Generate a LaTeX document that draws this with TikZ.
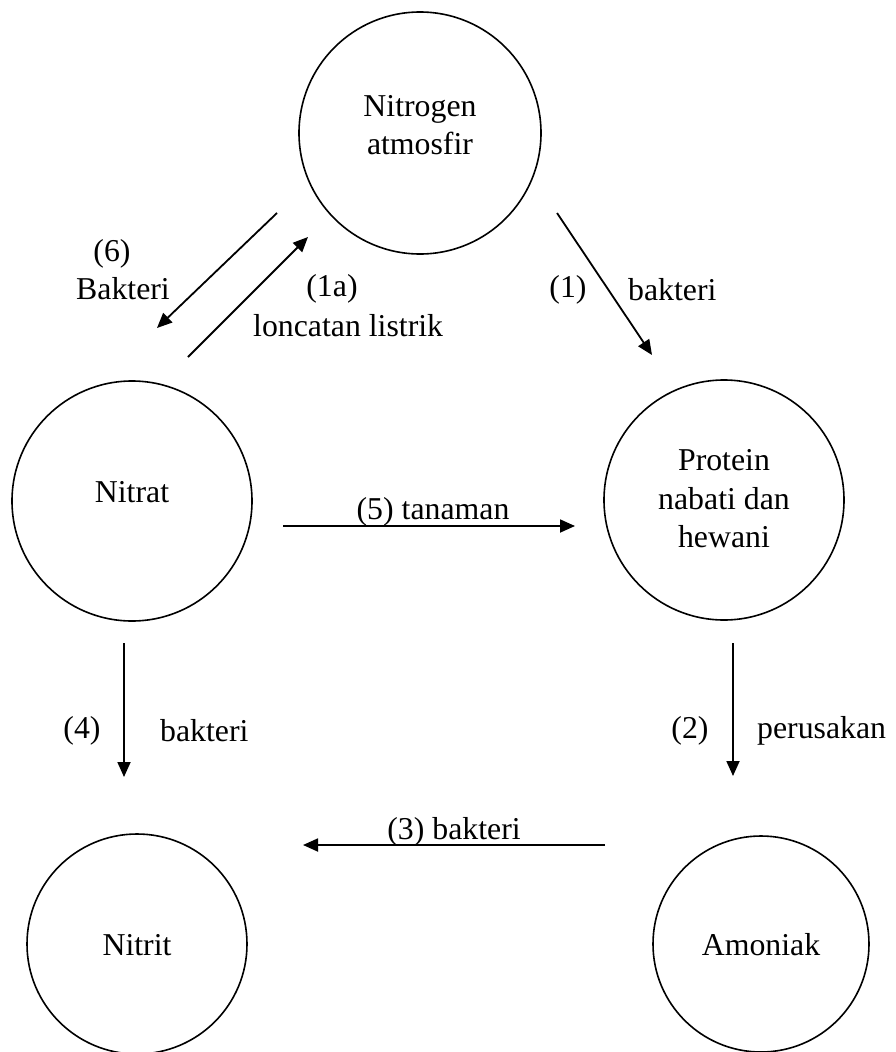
\documentclass[tikz,border=0pt]{standalone}
\usepackage{fontspec}
\setmainfont{Liberation Serif}
\usetikzlibrary{arrows.meta}
\begin{document}
\begin{tikzpicture}[x=1pt,y=-1pt,
  stage/.style={circle,draw,line width=1.6pt,inner sep=0pt},
  lbl/.style={font=\fontsize{31.8}{38.5}\selectfont,inner sep=0pt,align=center},
  arr/.style={line width=1.8pt,-{Triangle[length=15pt,width=13pt]}}]
\useasboundingbox (0,0) rectangle (895,1052);
% circles
\node[stage,minimum size=242pt] (N) at (420,133) {};
\node[stage,minimum size=240pt] (Na) at (132,501) {};
\node[stage,minimum size=240pt] (P) at (724,500) {};
\node[stage,minimum size=220pt] (Ni) at (137,944) {};
\node[stage,minimum size=216pt] (A) at (761,944) {};
% circle texts
\node[lbl] (tN) at (420,125) {Nitrogen\\atmosfir};
\node[lbl] (tNa) at (132,492) {Nitrat};
\node[lbl] (tP) at (724,499) {Protein\\nabati dan\\hewani};
\node[lbl] (tNi) at (137,945) {Nitrit};
\node[lbl] (tA) at (761,945) {Amoniak};
% arrow end points
\coordinate (a1s) at (557,213); \coordinate (a1e) at (652,355);
\coordinate (a6s) at (277,213); \coordinate (a6e) at (157,328);
\coordinate (a1as) at (188,357); \coordinate (a1ae) at (308,237);
\coordinate (a5s) at (283,526); \coordinate (a5e) at (575,526);
\coordinate (a2s) at (733,643); \coordinate (a2e) at (733,776);
\coordinate (a4s) at (124,643); \coordinate (a4e) at (124,777);
\coordinate (a3s) at (605,845); \coordinate (a3e) at (303,845);
% arrows
\draw[arr] (a1s) -- (a1e);
\draw[arr] (a6s) -- (a6e);
\draw[arr] (a1as) -- (a1ae);
\draw[arr] (a5s) -- (a5e);
\draw[arr] (a2s) -- (a2e);
\draw[arr] (a4s) -- (a4e);
\draw[arr] (a3s) -- (a3e);
% labels
\node[lbl] (l6) at (112,254) {(6)};
\node[lbl] (l6b) at (123,289) {Bakteri};
\node[lbl] (l1a) at (332,289) {(1a)};
\node[lbl,anchor=west] (l1ab) at (253,326) {loncatan listrik};
\node[lbl] (l1) at (568,290) {(1)};
\node[lbl,anchor=west] (l1b) at (628,290) {bakteri};
\node[lbl] (l5) at (433,512) {(5) tanaman};
\node[lbl] (l2) at (690,731) {(2)};
\node[lbl,anchor=west] (l2b) at (757,731) {perusakan};
\node[lbl] (l4) at (82,731) {(4)};
\node[lbl,anchor=west] (l4b) at (160,731) {bakteri};
\node[lbl] (l3) at (454,832) {(3) bakteri};
\end{tikzpicture}
\end{document}
